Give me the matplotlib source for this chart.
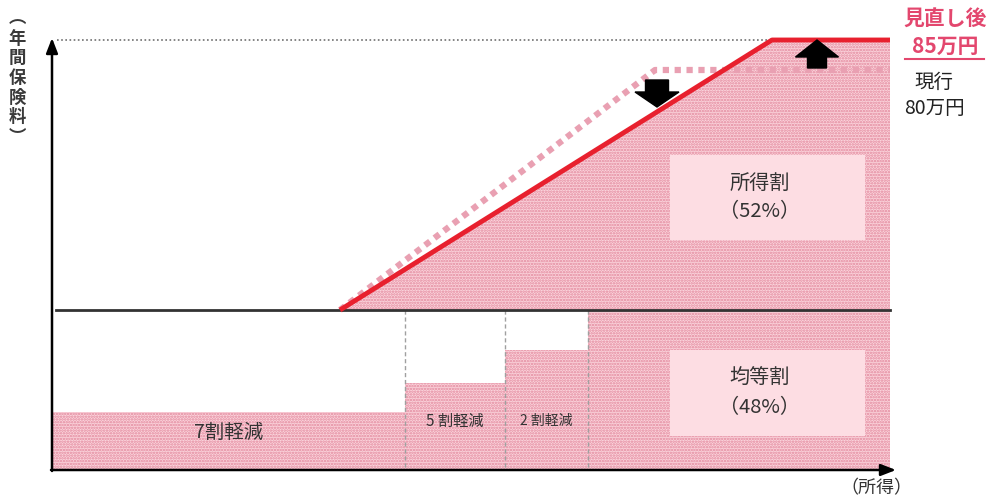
import matplotlib
matplotlib.use("Agg")
import matplotlib.pyplot as plt
from matplotlib.patches import Polygon, Rectangle, FancyArrow

plt.rcParams['font.family'] = ['Noto Sans CJK JP', 'DejaVu Sans']
plt.rcParams['hatch.linewidth'] = 1.2

# ---- schematic data (income on x, premium on y) ----
x_origin, x_end = 52, 890
y_origin = 470
base_level = 310          # 均等割 level (所得割 starts above it)
new_cap = 40              # 見直し後 85万円
cur_cap = 70              # 現行 80万円
rise_start = 340          # income where 所得割 starts
new_corner = 772          # income where new cap reached
cur_corner = 655          # income where current cap reached

# reduction steps (均等割 bars)
step_edges = [52, 405, 505, 588, 890]
step_tops = [412, 383, 350, 310]
step_labels = ["7割軽減", "5 割軽減", "2 割軽減", ""]
step_label_y = [432, 421, 421]
step_label_size = [14, 11, 10]

box_labels = ["所得割\n（52%）", "均等割\n（48%）"]
box_rects = [(670, 155, 195, 85), (670, 350, 195, 86)]

pink_face = '#fbd4dc'
pink_dot = '#e2879c'
red = '#e8202e'
pink_line = '#e9a0b2'

fig = plt.figure(figsize=(9.93, 5.0), dpi=100)
ax = fig.add_axes([0, 0, 1, 1])
ax.set_xlim(0, 993)
ax.set_ylim(500, 0)
ax.axis('off')

# upper 所得割 area
upper = Polygon([(rise_start, base_level), (new_corner, new_cap), (x_end, new_cap), (x_end, base_level)],
                closed=True, facecolor=pink_face, edgecolor=pink_dot, hatch='......', linewidth=0, zorder=1)
ax.add_patch(upper)

# lower 均等割 steps
for i in range(len(step_tops)):
    x0, x1 = step_edges[i], step_edges[i + 1]
    ax.add_patch(Rectangle((x0, step_tops[i]), x1 - x0, y_origin - step_tops[i],
                           facecolor=pink_face, edgecolor=pink_dot, hatch='......', linewidth=0, zorder=1))
    if step_labels[i]:
        ax.text((x0 + x1) / 2, step_label_y[i], step_labels[i], ha='center', va='center',
                fontsize=step_label_size[i], color='#333333', zorder=5)

# dashed separators
for x in step_edges[1:4]:
    ax.plot([x, x], [base_level, y_origin], color='#a0a0a0', lw=1, ls=(0, (3, 2)), zorder=2)

# boxes
for (bx, by, bw, bh), lab in zip(box_rects, box_labels):
    ax.add_patch(Rectangle((bx, by), bw, bh, facecolor='#fddde3', edgecolor='none', zorder=3))
    ax.text(bx + bw / 2 - 8, by + bh / 2, lab, ha='center', va='center', fontsize=14.5,
            color='#333333', linespacing=1.5, zorder=4)

# gray dotted top reference
ax.plot([x_origin + 5, new_corner], [new_cap, new_cap], color='#6f6f6f', lw=1.2, ls=(0, (1, 1.5)), zorder=2)

# current (pink dotted)
ax.plot([rise_start, cur_corner, x_end], [base_level, cur_cap, cur_cap], color=pink_line, lw=4.5,
        ls=(0, (1, 0.9)), dash_capstyle='butt', solid_joinstyle='round', zorder=4)

# baseline
ax.plot([x_origin + 4, x_end], [base_level, base_level], color='#333333', lw=2, zorder=5)

# new (red)
ax.plot([rise_start, new_corner, x_end], [base_level, new_cap, new_cap], color=red, lw=3.5,
        solid_capstyle='butt', zorder=6)

# block arrows
ax.add_patch(FancyArrow(657, 80, 0, 27, width=23, head_width=44, head_length=15,
                        length_includes_head=True, color='black', zorder=7))
ax.add_patch(FancyArrow(817, 68, 0, -28, width=19, head_width=43, head_length=17,
                        length_includes_head=True, color='black', zorder=7))

# axes arrows
ax.annotate('', xy=(x_origin, 38), xytext=(x_origin, y_origin + 1),
            arrowprops=dict(arrowstyle='-|>,head_length=0.9,head_width=0.35', color='black', lw=1.8,
                            shrinkA=0, shrinkB=0), zorder=8)
ax.annotate('', xy=(896, y_origin), xytext=(x_origin - 1, y_origin),
            arrowprops=dict(arrowstyle='-|>,head_length=0.9,head_width=0.35', color='black', lw=1.8,
                            shrinkA=0, shrinkB=0), zorder=8)

# axis labels (vertical writing)
ax.text(17, 78, '︵\n年\n間\n保\n険\n料\n︶', ha='center', va='center', fontsize=12.5,
        fontweight='bold', color='#3a3a3a', linespacing=1.12)
ax.text(876, 488, '（所得）', ha='center', va='center', fontsize=13, color='#333333')

# side labels
ax.text(945, 19, '見直し後', ha='center', va='center', fontsize=15, fontweight='bold', color='#e3476e')
ax.text(945, 46, '85万円', ha='center', va='center', fontsize=15, fontweight='bold', color='#e3476e')
ax.plot([905, 984], [59, 59], color='#e3476e', lw=1.5)
ax.text(934, 82, '現行', ha='center', va='center', fontsize=14, color='#222222')
ax.text(934, 109, '80万円', ha='center', va='center', fontsize=14, color='#222222')

fig.savefig('out.png', dpi=100)
